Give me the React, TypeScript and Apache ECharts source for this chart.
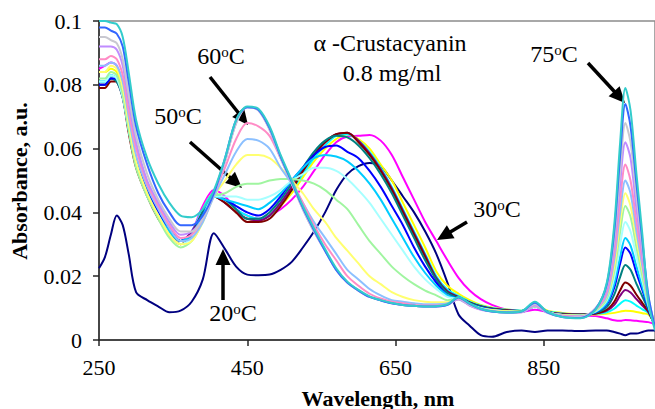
import React, { useEffect, useRef } from "react";
import * as echarts from "echarts";

const SERIF = "'Liberation Serif', 'Times New Roman', serif";

// Wavelength grid (nm) shared by every spectrum
const wavelengths = [
  250, 258, 266, 274, 282, 290, 300,
  315, 330, 345, 360, 375, 390,
  405, 420, 435, 450, 465, 480, 495,
  510, 525, 540, 555, 570, 585, 600,
  615, 630, 645, 660, 675, 690, 705,
  720, 735, 750, 765, 780, 800, 820,
  838, 855, 875, 900, 920, 935, 945,
  953, 960, 967, 975, 983, 991, 1000,
];

// Absorbance (a.u.) at each wavelength, one array per temperature
const abs20 = [
  0.0225, 0.026, 0.033, 0.039, 0.036, 0.027, 0.015,
  0.0125, 0.0105, 0.0087, 0.0092, 0.012, 0.019,
  0.0335, 0.0285, 0.023, 0.0205, 0.0203, 0.0205, 0.022,
  0.0245, 0.029, 0.034, 0.04, 0.047, 0.052, 0.0545,
  0.0555, 0.0545, 0.05, 0.045, 0.04, 0.034, 0.027,
  0.018, 0.008, 0.0045, 0.0015, 0.001, 0.0025, 0.003,
  0.0025, 0.003, 0.003, 0.0028, 0.003, 0.003, 0.0025,
  0.002, 0.0015, 0.002, 0.002, 0.0025, 0.003, 0.003,
];
const abs30 = [
  0.085, 0.086, 0.087, 0.086, 0.08, 0.068, 0.056,
  0.047, 0.04, 0.034, 0.031, 0.034, 0.042,
  0.047, 0.045, 0.041, 0.039, 0.038, 0.039, 0.041,
  0.044, 0.048, 0.053, 0.058, 0.062, 0.0638, 0.064,
  0.0643, 0.0625, 0.058, 0.051, 0.044, 0.037, 0.031,
  0.025, 0.0195, 0.0155, 0.0128, 0.011, 0.0095, 0.0088,
  0.0095, 0.0088, 0.0082, 0.0078, 0.0075, 0.0068, 0.0062,
  0.006, 0.0063, 0.0062, 0.006, 0.0058, 0.0056, 0.005,
];
const abs33 = [
  0.084, 0.084, 0.085, 0.084, 0.078, 0.067, 0.055,
  0.046, 0.039, 0.033, 0.03, 0.033, 0.041,
  0.046, 0.044, 0.04, 0.038, 0.0375, 0.039, 0.042,
  0.046, 0.051, 0.056, 0.06, 0.063, 0.0645, 0.063,
  0.06, 0.055, 0.05, 0.043, 0.036, 0.029, 0.0215,
  0.017, 0.0145, 0.0125, 0.011, 0.0102, 0.0096, 0.0092,
  0.011, 0.0092, 0.0085, 0.008, 0.008, 0.0082, 0.0085,
  0.0089, 0.0092, 0.0091, 0.0088, 0.0084, 0.008, 0.005,
];
const abs36 = [
  0.081, 0.081, 0.083, 0.082, 0.077, 0.066, 0.055,
  0.046, 0.039, 0.034, 0.031, 0.034, 0.041,
  0.046, 0.044, 0.041, 0.039, 0.038, 0.039, 0.043,
  0.047, 0.052, 0.057, 0.061, 0.064, 0.0645, 0.0625,
  0.059, 0.054, 0.048, 0.041, 0.034, 0.027, 0.02,
  0.0158, 0.0138, 0.012, 0.0108, 0.01, 0.0095, 0.0092,
  0.011, 0.009, 0.0083, 0.008, 0.0082, 0.0087, 0.0098,
  0.0114, 0.0125, 0.012, 0.0108, 0.0096, 0.0085, 0.005,
];
const abs38 = [
  0.08, 0.08, 0.082, 0.081, 0.076, 0.066, 0.055,
  0.046, 0.039, 0.034, 0.031, 0.034, 0.04,
  0.045, 0.043, 0.04, 0.038, 0.0375, 0.039, 0.043,
  0.048, 0.053, 0.058, 0.062, 0.0645, 0.065, 0.0625,
  0.0585, 0.0535, 0.0475, 0.0405, 0.0335, 0.0265, 0.0195,
  0.0153, 0.0135, 0.0118, 0.0106, 0.0099, 0.0094, 0.0091,
  0.0108, 0.0089, 0.0082, 0.008, 0.0083, 0.0092, 0.011,
  0.0139, 0.0157, 0.0149, 0.0128, 0.0108, 0.0088, 0.0045,
];
const abs40 = [
  0.079, 0.079, 0.081, 0.081, 0.076, 0.065, 0.054,
  0.045, 0.038, 0.033, 0.03, 0.033, 0.04,
  0.045, 0.043, 0.04, 0.037, 0.037, 0.038, 0.042,
  0.047, 0.053, 0.058, 0.062, 0.0645, 0.065, 0.062,
  0.058, 0.053, 0.047, 0.04, 0.033, 0.026, 0.019,
  0.015, 0.0133, 0.0117, 0.0105, 0.0098, 0.0093, 0.009,
  0.0107, 0.0088, 0.0081, 0.008, 0.0083, 0.0095, 0.012,
  0.0156, 0.018, 0.017, 0.0142, 0.0116, 0.009, 0.0045,
];
const abs42 = [
  0.08, 0.08, 0.082, 0.081, 0.076, 0.066, 0.055,
  0.046, 0.039, 0.034, 0.031, 0.033, 0.04,
  0.045, 0.044, 0.041, 0.038, 0.038, 0.04, 0.044,
  0.049, 0.054, 0.059, 0.0625, 0.064, 0.0635, 0.061,
  0.057, 0.052, 0.046, 0.039, 0.032, 0.025, 0.019,
  0.0148, 0.0132, 0.0116, 0.0104, 0.0097, 0.0092, 0.009,
  0.0107, 0.0088, 0.008, 0.0079, 0.0085, 0.0103, 0.0142,
  0.0198, 0.0235, 0.022, 0.0176, 0.0136, 0.0095, 0.0045,
];
const abs44 = [
  0.08, 0.08, 0.082, 0.082, 0.077, 0.067, 0.056,
  0.047, 0.04, 0.035, 0.031, 0.033, 0.039,
  0.045, 0.044, 0.042, 0.04, 0.039, 0.041, 0.045,
  0.05, 0.054, 0.058, 0.0605, 0.061, 0.059, 0.057,
  0.053, 0.048, 0.042, 0.036, 0.029, 0.023, 0.018,
  0.014, 0.013, 0.0113, 0.0102, 0.0095, 0.009, 0.0088,
  0.0105, 0.0087, 0.0078, 0.0077, 0.0087, 0.0112, 0.0164,
  0.024, 0.029, 0.027, 0.021, 0.0156, 0.01, 0.004,
];
const abs46 = [
  0.081, 0.081, 0.083, 0.082, 0.077, 0.066, 0.055,
  0.046, 0.039, 0.034, 0.031, 0.033, 0.039,
  0.045, 0.044, 0.043, 0.042, 0.041, 0.043, 0.046,
  0.05, 0.054, 0.057, 0.058, 0.0575, 0.056, 0.053,
  0.049, 0.044, 0.038, 0.032, 0.026, 0.021, 0.017,
  0.014, 0.0128, 0.0112, 0.0101, 0.0094, 0.009, 0.0088,
  0.0105, 0.0087, 0.0078, 0.0077, 0.0088, 0.0116, 0.0176,
  0.026, 0.032, 0.0296, 0.023, 0.0166, 0.0104, 0.004,
];
const abs48 = [
  0.081, 0.081, 0.083, 0.082, 0.076, 0.066, 0.055,
  0.045, 0.039, 0.033, 0.03, 0.032, 0.038,
  0.045, 0.045, 0.045, 0.044, 0.044, 0.045, 0.047,
  0.05, 0.052, 0.054, 0.054, 0.053, 0.0505, 0.047,
  0.043, 0.038, 0.033, 0.028, 0.023, 0.019, 0.016,
  0.0135, 0.0128, 0.0111, 0.01, 0.0094, 0.009, 0.0088,
  0.0105, 0.0087, 0.0078, 0.0077, 0.009, 0.0124, 0.0196,
  0.03, 0.037, 0.034, 0.026, 0.0184, 0.011, 0.004,
];
const abs50 = [
  0.082, 0.082, 0.084, 0.083, 0.077, 0.066, 0.054,
  0.045, 0.038, 0.032, 0.029, 0.031, 0.037,
  0.045, 0.046, 0.048, 0.049, 0.049, 0.05, 0.0505,
  0.0505, 0.05, 0.049, 0.047, 0.044, 0.041, 0.036,
  0.031, 0.027, 0.023, 0.02, 0.0175, 0.0155, 0.014,
  0.0125, 0.0128, 0.011, 0.0099, 0.0093, 0.009, 0.0088,
  0.0106, 0.0088, 0.0078, 0.0077, 0.0092, 0.013, 0.0216,
  0.034, 0.042, 0.0386, 0.029, 0.02, 0.0114, 0.004,
];
const abs52 = [
  0.084, 0.084, 0.086, 0.085, 0.079, 0.068, 0.056,
  0.046, 0.039, 0.033, 0.03, 0.031, 0.037,
  0.045, 0.05, 0.055, 0.058, 0.058, 0.057, 0.054,
  0.05, 0.046, 0.041, 0.037, 0.032, 0.028, 0.024,
  0.02, 0.0175, 0.015, 0.0135, 0.0125, 0.012, 0.0118,
  0.0118, 0.0132, 0.0112, 0.0099, 0.0093, 0.009, 0.0089,
  0.0108, 0.0088, 0.0078, 0.0076, 0.0093, 0.0137, 0.023,
  0.037, 0.046, 0.042, 0.0316, 0.0217, 0.012, 0.004,
];
const abs55 = [
  0.086, 0.086, 0.087, 0.086, 0.081, 0.07, 0.058,
  0.048, 0.041, 0.035, 0.031, 0.032, 0.037,
  0.045, 0.052, 0.059, 0.063, 0.0625, 0.06, 0.054,
  0.049, 0.043, 0.037, 0.032, 0.027, 0.022, 0.019,
  0.016, 0.014, 0.0125, 0.012, 0.0115, 0.0112, 0.0112,
  0.0115, 0.013, 0.011, 0.0098, 0.0091, 0.0088, 0.0088,
  0.0108, 0.0087, 0.0077, 0.0075, 0.0095, 0.014, 0.025,
  0.04, 0.05, 0.046, 0.034, 0.023, 0.012, 0.004,
];
const abs60 = [
  0.088, 0.088, 0.089, 0.088, 0.083, 0.072, 0.06,
  0.049, 0.042, 0.036, 0.032, 0.033, 0.038,
  0.046, 0.054, 0.063, 0.068, 0.067, 0.064, 0.057,
  0.05, 0.043, 0.036, 0.03, 0.025, 0.02, 0.017,
  0.0145, 0.013, 0.012, 0.0115, 0.011, 0.0108, 0.0108,
  0.0112, 0.0128, 0.0108, 0.0096, 0.009, 0.0087, 0.0087,
  0.0108, 0.0086, 0.0076, 0.0074, 0.0096, 0.015, 0.027,
  0.044, 0.055, 0.05, 0.037, 0.025, 0.013, 0.004,
];
const abs65 = [
  0.092, 0.092, 0.092, 0.091, 0.086, 0.075, 0.062,
  0.05, 0.043, 0.037, 0.033, 0.034, 0.038,
  0.046, 0.056, 0.068, 0.073, 0.072, 0.066, 0.057,
  0.049, 0.041, 0.034, 0.028, 0.022, 0.018, 0.0155,
  0.0135, 0.0125, 0.0115, 0.011, 0.0107, 0.0105, 0.0105,
  0.011, 0.0128, 0.0108, 0.0095, 0.0089, 0.0086, 0.0087,
  0.011, 0.0085, 0.0074, 0.0072, 0.01, 0.016, 0.03,
  0.049, 0.062, 0.057, 0.041, 0.027, 0.013, 0.004,
];
const abs68 = [
  0.095, 0.095, 0.094, 0.093, 0.088, 0.077, 0.064,
  0.052, 0.044, 0.038, 0.034, 0.034, 0.038,
  0.046, 0.056, 0.068, 0.073, 0.072, 0.066, 0.057,
  0.049, 0.041, 0.034, 0.028, 0.022, 0.018, 0.0155,
  0.0135, 0.0125, 0.0115, 0.011, 0.0107, 0.0105, 0.0105,
  0.011, 0.013, 0.011, 0.0096, 0.0089, 0.0086, 0.0088,
  0.0113, 0.0086, 0.0073, 0.0071, 0.01, 0.017, 0.032,
  0.053, 0.068, 0.062, 0.045, 0.029, 0.014, 0.004,
];
const abs72 = [
  0.098, 0.098, 0.097, 0.096, 0.092, 0.081, 0.067,
  0.055, 0.046, 0.04, 0.036, 0.036, 0.039,
  0.046, 0.057, 0.069, 0.073, 0.0722, 0.0665, 0.0575,
  0.0495, 0.0415, 0.0345, 0.028, 0.022, 0.018, 0.0155,
  0.0135, 0.0124, 0.0115, 0.011, 0.0107, 0.0105, 0.0105,
  0.011, 0.0133, 0.0113, 0.0097, 0.0089, 0.0086, 0.0089,
  0.0117, 0.0087, 0.0072, 0.0069, 0.0098, 0.0175, 0.034,
  0.058, 0.074, 0.067, 0.049, 0.031, 0.014, 0.004,
];
const abs75 = [
  0.1, 0.1, 0.0995, 0.099, 0.095, 0.084, 0.069,
  0.057, 0.049, 0.043, 0.039, 0.0385, 0.041,
  0.047, 0.057, 0.069, 0.0732, 0.0725, 0.067, 0.058,
  0.05, 0.042, 0.035, 0.0285, 0.0225, 0.0183, 0.0157,
  0.0137, 0.0125, 0.0116, 0.011, 0.0107, 0.0105, 0.0106,
  0.0112, 0.0135, 0.0115, 0.0098, 0.009, 0.0086, 0.009,
  0.012, 0.0088, 0.0072, 0.0068, 0.0095, 0.018, 0.036,
  0.062, 0.079, 0.072, 0.052, 0.033, 0.012, 0.003,
];

const temperatures = [20, 30, 33, 36, 38, 40, 42, 44, 46, 48, 50, 52, 55, 60, 65, 68, 72, 75];
const spectra = [
  abs20, abs30, abs33, abs36, abs38, abs40, abs42, abs44, abs46,
  abs48, abs50, abs52, abs55, abs60, abs65, abs68, abs72, abs75,
];
const lineColors = [
  "#000080", "#FF00FF", "#FFFF00", "#00FFFF", "#800080", "#800000",
  "#008080", "#0000FF", "#00CCFF", "#A6FFFF", "#A0F5A0", "#FFFF70",
  "#8CC0FF", "#FF8CC6", "#C08CFF", "#C8C8D0", "#3366FF", "#33CCCC",
];

// Black annotation arrow: shaft plus a filled triangular head at the tip
function arrow(x1: number, y1: number, x2: number, y2: number) {
  const dx = x2 - x1;
  const dy = y2 - y1;
  const len = Math.hypot(dx, dy);
  const ux = dx / len;
  const uy = dy / len;
  const headLen = 16;
  const headHalf = 7.5;
  const bx = x2 - ux * headLen;
  const by = y2 - uy * headLen;
  const px = -uy;
  const py = ux;
  return [
    {
      type: "line",
      silent: true,
      shape: { x1, y1, x2: bx + ux * 2, y2: by + uy * 2 },
      style: { stroke: "#000", lineWidth: 3.5 },
    },
    {
      type: "polygon",
      silent: true,
      shape: {
        points: [
          [x2, y2],
          [bx + px * headHalf, by + py * headHalf],
          [bx - px * headHalf, by - py * headHalf],
        ],
      },
      style: { fill: "#000" },
    },
  ];
}

function tempLabel(t: string, x: number, y: number) {
  return {
    type: "text",
    silent: true,
    x,
    y,
    style: {
      text: `{n|${t}}{s|o}{n|C}`,
      align: "center",
      verticalAlign: "middle",
      rich: {
        n: { fontSize: 24, fontFamily: SERIF, fill: "#000", lineHeight: 24, verticalAlign: "bottom" },
        s: { fontSize: 15, fontFamily: SERIF, fill: "#000", lineHeight: 15, verticalAlign: "top" },
      },
    },
  };
}

function plainText(text: string, x: number, y: number, size: number, weight = "normal", rotation = 0) {
  return {
    type: "text",
    silent: true,
    x,
    y,
    rotation,
    style: {
      text,
      fontSize: size,
      fontFamily: SERIF,
      fontWeight: weight,
      fill: "#000",
      align: "center",
      verticalAlign: "middle",
    },
  };
}

export default function App() {
  const ref = useRef<HTMLDivElement>(null);

  useEffect(() => {
    if (!ref.current) return;
    const chart = echarts.init(ref.current, undefined, { renderer: "svg" });

    const axisColor = "#262626";
    const option = {
      animation: false,
      backgroundColor: "#ffffff",
      textStyle: { fontFamily: SERIF },
      grid: {
        left: 99,
        top: 21,
        width: 557.5,
        height: 319,
        show: true,
        borderColor: "#8c8c8c",
        borderWidth: 1.5,
        backgroundColor: "transparent",
      },
      xAxis: {
        type: "value",
        min: 250,
        max: 1000,
        interval: 200,
        axisLine: { show: true, lineStyle: { color: axisColor, width: 1.5 } },
        axisTick: { show: true, inside: false, length: 6, lineStyle: { color: axisColor, width: 1.5 } },
        axisLabel: {
          fontSize: 22,
          fontFamily: SERIF,
          color: "#000",
          margin: 16,
          showMaxLabel: false,
        },
        splitLine: { show: false },
      },
      yAxis: {
        type: "value",
        min: 0,
        max: 0.1,
        interval: 0.02,
        axisLine: { show: true, lineStyle: { color: axisColor, width: 1.5 } },
        axisTick: { show: true, inside: false, length: 6, lineStyle: { color: axisColor, width: 1.5 } },
        axisLabel: {
          fontSize: 22,
          fontFamily: SERIF,
          color: "#000",
          margin: 17,
          formatter: (v: number) => String(Math.round(v * 100) / 100),
        },
        splitLine: { show: false },
      },
      series: spectra.map((values, i) => ({
        type: "line",
        name: `${temperatures[i]} °C`,
        data: wavelengths.map((w, j) => [w, values[j]]),
        showSymbol: false,
        symbol: "none",
        smooth: 0.3,
        silent: true,
        lineStyle: { color: lineColors[i], width: 2 },
        itemStyle: { color: lineColors[i] },
      })),
      graphic: [
        plainText("α -Crustacyanin", 390, 43, 24),
        plainText("0.8 mg/ml", 392, 73, 24),
        tempLabel("60", 221, 56),
        tempLabel("50", 178, 116),
        tempLabel("75", 554, 54),
        tempLabel("30", 497, 209),
        tempLabel("20", 233, 313),
        ...arrow(210, 77, 248, 125),
        ...arrow(190, 142, 242, 188),
        ...arrow(588, 63, 625, 103),
        ...arrow(467, 222, 437, 240),
        ...arrow(223, 300, 223, 249),
        plainText("Absorbance, a.u.", 19.5, 181, 22, "bold", Math.PI / 2),
        plainText("Wavelength, nm", 378, 398, 22, "bold"),
      ],
    };

    chart.setOption(option as any);
    return () => chart.dispose();
  }, []);

  return (
    <div
      ref={ref}
      style={{ position: "fixed", left: 0, top: 0, width: 655, height: 409, background: "#fff" }}
    />
  );
}
